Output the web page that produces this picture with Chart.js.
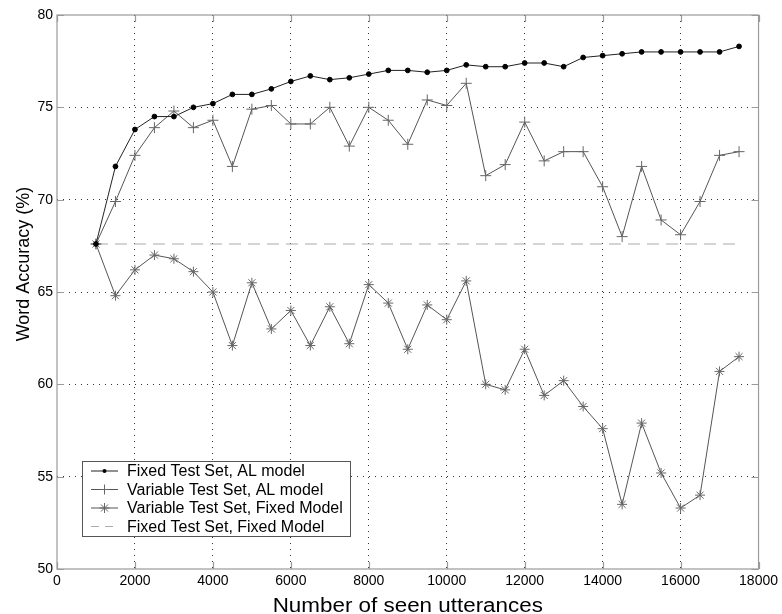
<!DOCTYPE html>
<html>
<head>
<meta charset="utf-8">
<title>Word Accuracy vs. seen utterances</title>
<script src="https://cdn.jsdelivr.net/npm/chart.js@4.4.1/dist/chart.umd.min.js"></script>
<style>
  html, body { margin: 0; padding: 0; background: #fff; }
  canvas { display: block; }
</style>
</head>
<body>
<canvas id="chart" width="782" height="614"></canvas>
<script>
// Number of utterances seen so far
const utterances = [1000, 1500, 2000, 2500, 3000, 3500, 4000, 4500, 5000, 5500,
  6000, 6500, 7000, 7500, 8000, 8500, 9000, 9500, 10000, 10500,
  11000, 11500, 12000, 12500, 13000, 13500, 14000, 14500, 15000, 15500,
  16000, 16500, 17000, 17500];

// Word accuracy (%) for each condition
const fixedTestAL = [67.6, 71.8, 73.8, 74.5, 74.5, 75.0, 75.2, 75.7, 75.7, 76.0,
  76.4, 76.7, 76.5, 76.6, 76.8, 77.0, 77.0, 76.9, 77.0, 77.3,
  77.2, 77.2, 77.4, 77.4, 77.2, 77.7, 77.8, 77.9, 78.0, 78.0,
  78.0, 78.0, 78.0, 78.3];
const variableTestAL = [67.6, 69.9, 72.4, 73.9, 74.8, 73.9, 74.3, 71.8, 74.9, 75.1,
  74.1, 74.1, 75.0, 72.9, 75.0, 74.3, 73.0, 75.4, 75.1, 76.3,
  71.3, 71.9, 74.2, 72.1, 72.6, 72.6, 70.7, 68.0, 71.8, 68.9,
  68.1, 69.9, 72.4, 72.6];
const variableTestFixed = [67.6, 64.8, 66.2, 67.0, 66.8, 66.1, 65.0, 62.1, 65.5, 63.0,
  64.0, 62.1, 64.2, 62.2, 65.4, 64.4, 61.9, 64.3, 63.5, 65.6,
  60.0, 59.7, 61.9, 59.4, 60.2, 58.8, 57.6, 53.5, 57.9, 55.2,
  53.3, 54.0, 60.7, 61.5];
const fixedTestFixedValue = 67.6;

const xTicks = [0, 2000, 4000, 6000, 8000, 10000, 12000, 14000, 16000, 18000];
const yTicks = [50, 55, 60, 65, 70, 75, 80];

const seriesLabels = [
  'Fixed Test Set, AL model',
  'Variable Test Set, AL model',
  'Variable Test Set, Fixed Model',
  'Fixed Test Set, Fixed Model'
];

const toPoints = vals => utterances.map((u, i) => ({ x: u, y: vals[i] }));
const FONT = '"Liberation Sans", Arial, Helvetica, sans-serif';

// Box frame with inward tick marks on all four sides
const framePlugin = {
  id: 'frame',
  beforeDatasetsDraw(chart) {
    const { ctx, chartArea: a, scales } = chart;
    ctx.save();
    ctx.strokeStyle = '#9a9a9a';
    ctx.lineWidth = 1.2;
    ctx.strokeRect(a.left, a.top, a.right - a.left, a.bottom - a.top);
    const len = 7;
    ctx.beginPath();
    xTicks.forEach(v => {
      const px = Math.round(scales.x.getPixelForValue(v)) + 0.5;
      ctx.moveTo(px, a.bottom); ctx.lineTo(px, a.bottom - len);
      ctx.moveTo(px, a.top); ctx.lineTo(px, a.top + len);
    });
    yTicks.forEach(v => {
      const py = Math.round(scales.y.getPixelForValue(v)) + 0.5;
      ctx.moveTo(a.left, py); ctx.lineTo(a.left + len, py);
      ctx.moveTo(a.right, py); ctx.lineTo(a.right - len, py);
    });
    ctx.stroke();
    ctx.restore();
  }
};

// Axis titles
const titlesPlugin = {
  id: 'axisTitles',
  afterDraw(chart) {
    const { ctx, chartArea: a } = chart;
    ctx.save();
    ctx.fillStyle = '#000';
    ctx.textAlign = 'center';
    ctx.textBaseline = 'alphabetic';
    // x title, slightly widened
    ctx.font = '20px ' + FONT;
    ctx.save();
    ctx.translate((a.left + a.right) / 2, 612);
    ctx.scale(1.12, 1);
    ctx.fillText('Number of seen utterances', 0, 0);
    ctx.restore();
    // y title
    ctx.font = '18px ' + FONT;
    ctx.translate(29, (a.top + a.bottom) / 2 - 28);
    ctx.rotate(-Math.PI / 2);
    ctx.fillText('Word Accuracy (%)', 0, 0);
    ctx.restore();
  }
};

// Marker glyphs used in the legend samples
function drawMarker(ctx, style, x, y, r) {
  ctx.beginPath();
  if (style === 'circle') {
    ctx.arc(x, y, r, 0, Math.PI * 2);
    ctx.fill();
    return;
  }
  ctx.moveTo(x - r, y); ctx.lineTo(x + r, y);
  ctx.moveTo(x, y - r); ctx.lineTo(x, y + r);
  if (style === 'star') {
    const d = r * Math.SQRT1_2;
    ctx.moveTo(x - d, y - d); ctx.lineTo(x + d, y + d);
    ctx.moveTo(x - d, y + d); ctx.lineTo(x + d, y - d);
  }
  ctx.stroke();
}

// Boxed legend in the lower-left corner of the plot
const legendPlugin = {
  id: 'boxLegend',
  afterDatasetsDraw(chart) {
    const { ctx } = chart;
    const box = { x: 82.5, y: 461.5, w: 268, h: 75 };
    ctx.save();
    ctx.fillStyle = '#fff';
    ctx.fillRect(box.x, box.y, box.w, box.h);
    ctx.strokeStyle = '#555';
    ctx.lineWidth = 1;
    ctx.strokeRect(box.x, box.y, box.w, box.h);
    ctx.font = '16px ' + FONT;
    ctx.textBaseline = 'middle';
    ctx.textAlign = 'left';
    chart.data.datasets.forEach((ds, i) => {
      const cy = 471 + i * 18.5;
      const x0 = 91, x1 = 118;
      ctx.save();
      ctx.strokeStyle = ds.borderColor;
      ctx.lineWidth = ds.borderWidth;
      ctx.setLineDash(ds.borderDash ? [8, 6] : []);
      ctx.beginPath();
      ctx.moveTo(x0, cy); ctx.lineTo(x1, cy);
      ctx.stroke();
      ctx.restore();
      if (ds.pointRadius > 0) {
        ctx.save();
        ctx.strokeStyle = ds.pointBorderColor;
        ctx.fillStyle = ds.pointBackgroundColor;
        ctx.lineWidth = ds.pointBorderWidth;
        drawMarker(ctx, ds.pointStyle, (x0 + x1) / 2, cy,
          ds.pointStyle === 'circle' ? 2 : 5);
        ctx.restore();
      }
      ctx.fillStyle = '#000';
      ctx.fillText(ds.label, 127, cy + 1);
    });
    ctx.restore();
  }
};

const edgeTransparent = (ctx, color) =>
  (ctx.index === 0 || ctx.index === ctx.scale.ticks.length - 1) ? 'rgba(0,0,0,0)' : color;

new Chart(document.getElementById('chart'), {
  type: 'line',
  data: {
    datasets: [
      {
        label: seriesLabels[0],
        data: toPoints(fixedTestAL),
        borderColor: '#222',
        borderWidth: 1,
        pointStyle: 'circle',
        pointRadius: 2.4,
        pointBackgroundColor: '#000',
        pointBorderColor: '#000',
        pointBorderWidth: 1
      },
      {
        label: seriesLabels[1],
        data: toPoints(variableTestAL),
        borderColor: '#555',
        borderWidth: 1,
        pointStyle: 'cross',
        pointRadius: 5.5,
        pointBackgroundColor: 'rgba(0,0,0,0)',
        pointBorderColor: '#666',
        pointBorderWidth: 1
      },
      {
        label: seriesLabels[2],
        data: toPoints(variableTestFixed),
        borderColor: '#555',
        borderWidth: 1,
        pointStyle: 'star',
        pointRadius: 5,
        pointBackgroundColor: 'rgba(0,0,0,0)',
        pointBorderColor: '#666',
        pointBorderWidth: 1
      },
      {
        label: seriesLabels[3],
        data: utterances.map(u => ({ x: u, y: fixedTestFixedValue })),
        borderColor: '#aaa',
        borderWidth: 1.2,
        borderDash: [12, 7],
        pointRadius: 0,
        pointBorderColor: '#aaa',
        pointBackgroundColor: '#aaa',
        pointBorderWidth: 1
      }
    ]
  },
  options: {
    responsive: false,
    animation: false,
    layout: { padding: { top: 15, right: 22, left: 0, bottom: 0 } },
    plugins: {
      legend: { display: false },
      tooltip: { enabled: false },
      title: { display: false }
    },
    elements: { line: { tension: 0 } },
    scales: {
      x: {
        type: 'linear',
        min: 0,
        max: 18000,
        afterFit(scale) { scale.height = 45; },
        afterBuildTicks(scale) { scale.ticks = xTicks.map(v => ({ value: v })); },
        border: { display: false, dash: [1, 5] },
        grid: {
          drawTicks: false,
          color: ctx => edgeTransparent(ctx, '#333'),
          lineWidth: 1
        },
        ticks: {
          padding: 4,
          color: '#000',
          maxRotation: 0,
          autoSkip: false,
          font: { family: FONT, size: 14 },
          callback: v => String(v)
        }
      },
      y: {
        type: 'linear',
        min: 50,
        max: 80,
        afterFit(scale) { scale.width = 57; },
        afterBuildTicks(scale) { scale.ticks = yTicks.map(v => ({ value: v })); },
        border: { display: false, dash: [1, 5] },
        grid: {
          drawTicks: false,
          color: ctx => edgeTransparent(ctx, '#333'),
          lineWidth: 1
        },
        ticks: {
          padding: 4,
          color: '#000',
          autoSkip: false,
          font: { family: FONT, size: 14 },
          callback: v => String(v)
        }
      }
    }
  },
  plugins: [framePlugin, legendPlugin, titlesPlugin]
});
</script>
</body>
</html>
